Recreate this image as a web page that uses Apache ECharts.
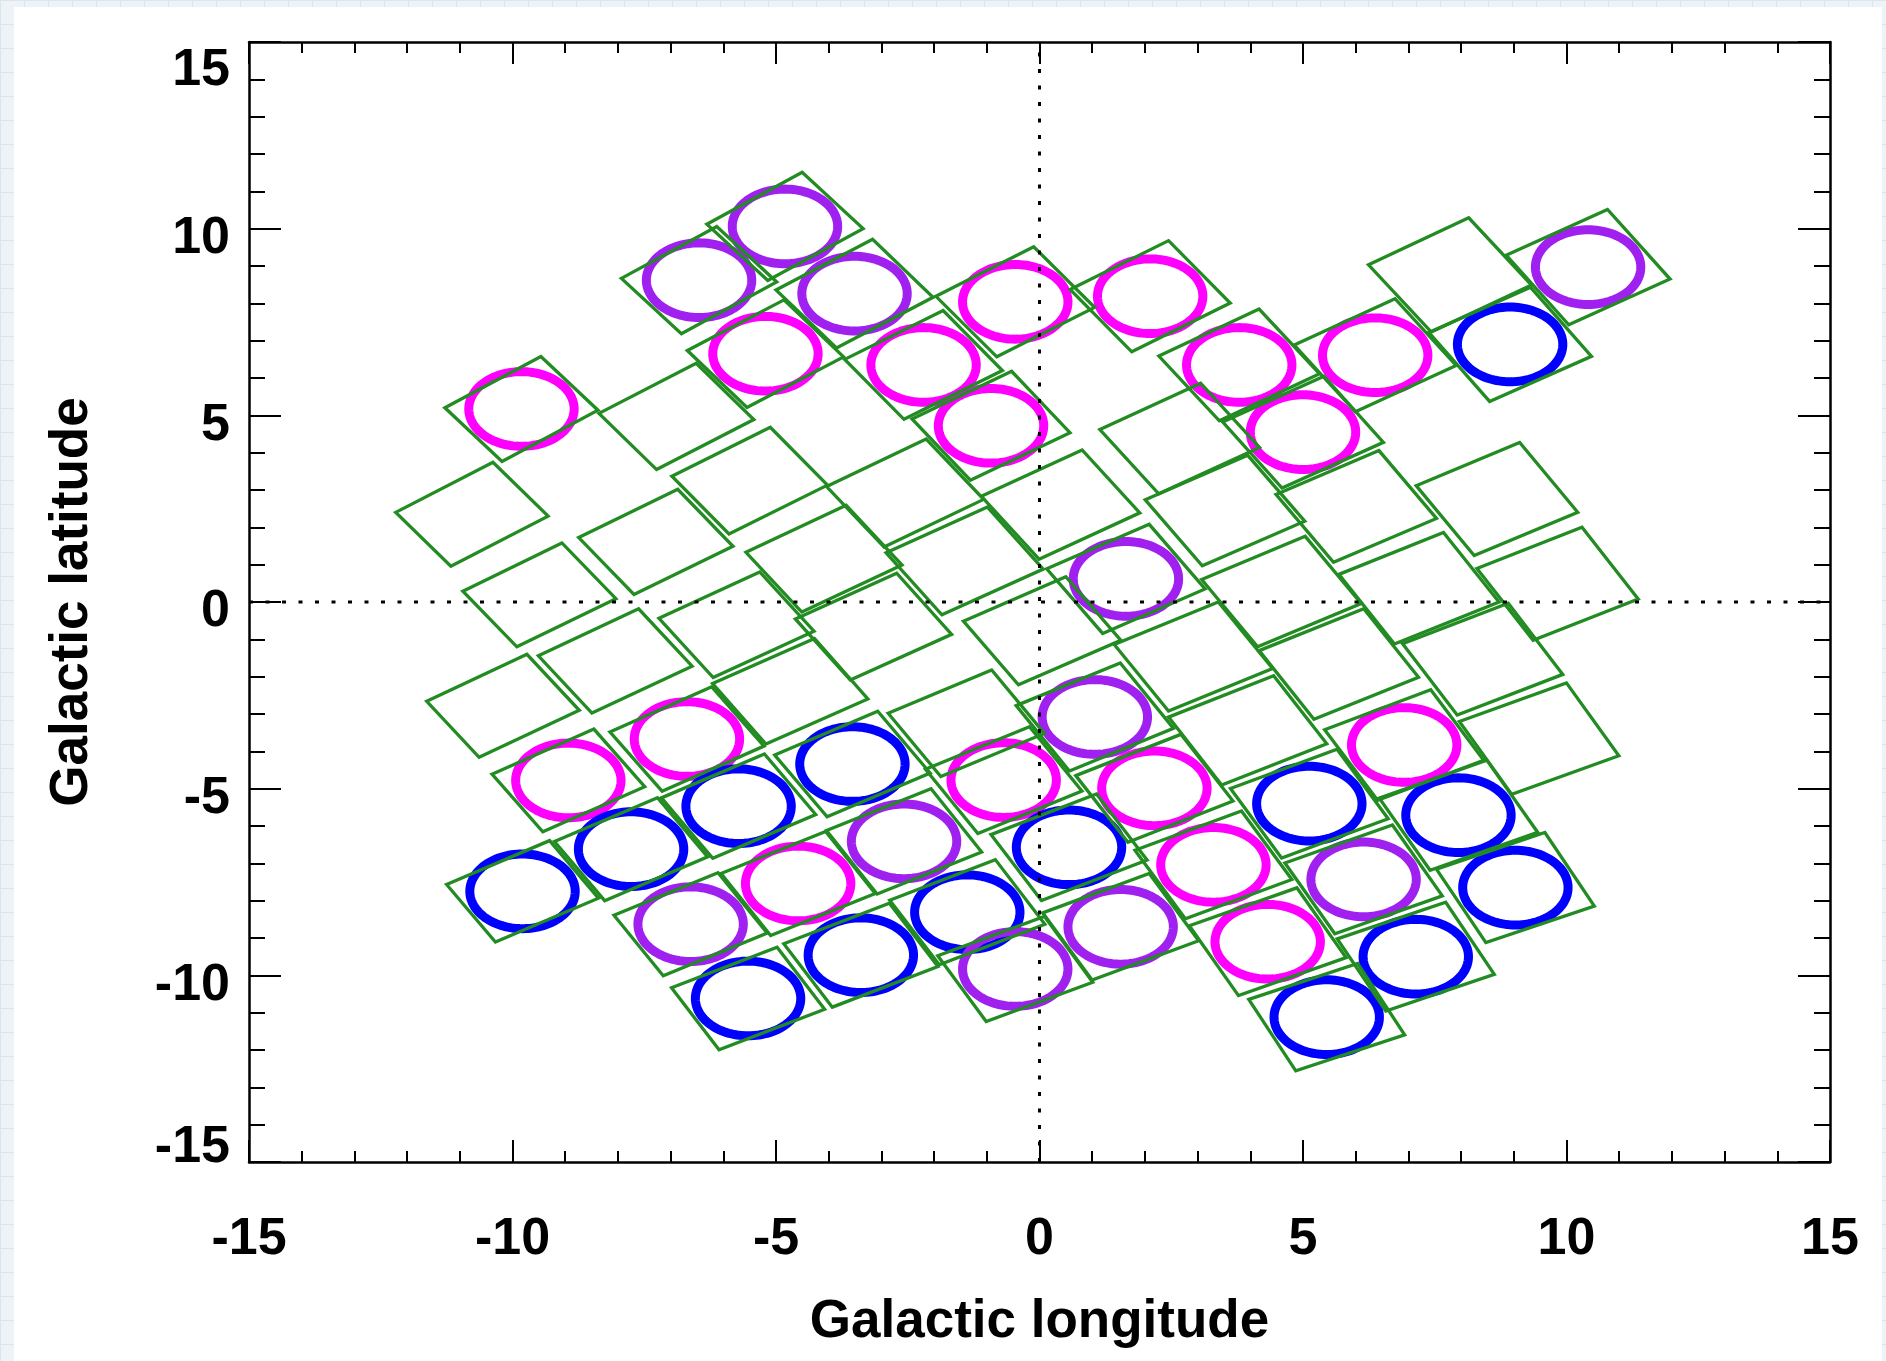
<!DOCTYPE html>
<html><head><meta charset="utf-8">
<script src="https://cdn.jsdelivr.net/npm/echarts@6/dist/echarts.min.js"></script>
<style>
html,body{margin:0;padding:0;width:1886px;height:1361px;overflow:hidden;}
body{background-color:#eef3f7;background-image:linear-gradient(#dbe5ee 1px,transparent 1px),linear-gradient(90deg,#dbe5ee 1px,transparent 1px);background-size:24px 24px;}
#card{position:absolute;left:14px;top:7px;width:1868px;height:1354px;background:#fff;}
#chart{position:absolute;left:0;top:0;width:1886px;height:1361px;}
</style></head><body><div id="card"></div><div id="chart"></div>
<script>
// ---- ring (circle) fields: galactic l, b and colour class ----
const ringL = [-4.83,-6.46,-3.51,-0.46,2.10,10.41,-5.20,-2.20,3.79,6.37,8.93,-9.83,-0.92,5.00,1.64,1.05,-6.69,6.92,-8.94,-3.55,-0.68,2.18,-5.71,5.12,7.95,-7.75,-2.57,0.56,3.30,6.15,-9.81,-4.58,9.03,-6.62,-1.37,1.54,4.33,-3.39,-0.46,7.14,-5.53,5.45];
const ringB = [10.06,8.62,8.26,8.04,8.19,8.97,6.65,6.35,6.35,6.61,6.90,5.17,4.72,4.55,0.62,-3.08,-3.67,-3.83,-4.78,-4.34,-4.77,-4.99,-5.47,-5.40,-5.71,-6.62,-6.41,-6.57,-7.04,-7.43,-7.75,-7.54,-7.65,-8.63,-8.31,-8.70,-9.10,-9.46,-9.83,-9.50,-10.62,-11.12];
const ringKind = ['P','P','P','M','M','P','M','M','M','M','B','M','M','M','P','P','M','M','M','B','M','M','B','B','B','B','P','B','M','P','B','M','B','P','B','P','M','B','P','B','B','B'];

// ---- square fields without a ring ----
const openL = [7.79,-10.77,-6.89,-5.50,-7.28,-9.49,-8.05,-10.18,-5.75,-4.09,-2.55,-3.15,-4.73,-1.42,0.40,0.05,-1.39,2.66,3.52,6.01,8.68,9.83,7.20,4.59,2.92,3.95,5.68,8.41,9.48];
const openB = [8.76,2.35,4.97,3.25,1.61,0.19,-1.58,-2.78,-0.61,1.16,2.92,-0.66,-2.39,1.10,2.61,-0.77,-3.25,4.38,2.45,2.56,2.76,0.49,0.37,0.28,-1.46,-3.44,-1.66,-1.53,-3.66];

// ---- field orientation (deg) and short side (deg): ring fields then open fields ----
const ringFieldAngle = [37.5,37.5,36.5,35.5,35,32.5,36.5,35,33.5,33,32,37,34,32.5,31.5,30,32,28,32,31,30,29,31,27.5,26.5,31,29.5,28.5,27.5,26.5,31,29.5,25.5,30,28.5,27.5,26.5,28.5,27.5,25.5,28.5,25];
const openFieldAngle = [33.5,36,36,35,34.5,34.5,33.5,33.5,33,33.5,34,32.5,32,32.5,33,31.5,30.5,33,31.5,31,30.5,29,29.5,30.5,30,29,29.5,28.5,27];
const ringFieldShort = [1.90,1.87,1.93,1.99,2.04,2.21,1.90,1.96,2.08,2.13,2.18,1.80,1.98,2.10,2.03,2.02,1.87,2.14,1.82,1.93,1.99,2.04,1.89,2.10,2.16,1.85,1.95,2.01,2.07,2.12,1.80,1.91,2.18,1.87,1.97,2.03,2.09,1.93,1.99,2.14,1.89,2.11];
const openFieldShort = [2.16,1.78,1.86,1.89,1.85,1.81,1.84,1.80,1.89,1.92,1.95,1.94,1.91,1.97,2.01,2.00,1.97,2.05,2.07,2.12,2.17,2.20,2.14,2.09,2.06,2.08,2.11,2.17,2.19];
const FIELD_LONG = 2.28;   // long side of a field, deg
const RING_R = 1.0;        // ring radius, deg

// ---- axes ----
const axisMin = -15, axisMax = 15, axisStep = 5;
const zeroLineH = [[-15,0],[15,0]];
const zeroLineV = [[0,-15],[0,15]];

const fieldL = ringL.concat(openL);
const fieldB = ringB.concat(openB);
const fieldAngle = ringFieldAngle.concat(openFieldAngle);
const fieldShort = ringFieldShort.concat(openFieldShort);

const RING_COLOR = {P:'#A020F0', M:'#FF00FF', B:'#0000FF'};
const GREEN = '#228B22';
const FONT = '"Liberation Sans", Arial, Helvetica, sans-serif';
const lab = {fontSize:52, fontWeight:'bold', color:'#000', fontFamily:FONT};

function tickAxis(pos, major, minor, showLabel, extra) {
  return Object.assign({
    type:'value', position:pos, min:axisMin, max:axisMax, interval:axisStep,
    axisLine:{show:true, onZero:false, lineStyle:{color:'#000', width:2.5}},
    axisTick:{show:true, inside:true, length:major, lineStyle:{color:'#000', width:2}},
    minorTick:{show:true, splitNumber:5, length:minor, lineStyle:{color:'#000', width:2}},
    splitLine:{show:false}, minorSplitLine:{show:false},
    axisLabel:{show:showLabel},
    nameMoveOverlap:false
  }, extra || {});
}

const chart = echarts.init(document.getElementById('chart'), null, {renderer:'canvas', width:1886, height:1361});

const option = {
  animation:false,
  backgroundColor:'transparent',
  grid:{left:249, top:42, width:1581, height:1120, containLabel:false, outerBoundsMode:'none'},
  xAxis:[
    tickAxis('bottom', 22, 11, true, {
      axisLabel:Object.assign({show:true, margin:52}, lab),
      name:'Galactic longitude', nameLocation:'middle', nameGap:134,
      nameTextStyle:{fontSize:53, fontWeight:'bold', color:'#000', fontFamily:FONT}
    }),
    tickAxis('top', 22, 11, false)
  ],
  yAxis:[
    tickAxis('left', 32, 16, true, {
      axisLabel:Object.assign({show:true, margin:19,
        formatter:function(v){ return v === axisMax ? '{top|'+v+'}' : (v === axisMin ? '{bot|'+v+'}' : '{mid|'+v+'}'); },
        rich:{
          top:Object.assign({padding:[58,0,0,0]}, lab),
          bot:Object.assign({padding:[0,0,28,0]}, lab),
          mid:Object.assign({padding:[20,0,0,0]}, lab)
        }
      }, lab),
      name:'Galactic latitude', nameLocation:'middle', nameGap:150, nameRotate:90,
      nameTextStyle:{fontSize:53, fontWeight:'bold', color:'#000', fontFamily:FONT}
    }),
    tickAxis('right', 32, 16, false)
  ],
  series:[
    {type:'line', xAxisIndex:0, yAxisIndex:0, data:zeroLineH, symbol:'none', silent:true,
     lineStyle:{color:'#000', width:3, type:[4,12.5]}},
    {type:'line', xAxisIndex:0, yAxisIndex:0, data:zeroLineV, symbol:'none', silent:true,
     lineStyle:{color:'#000', width:3, type:[4,12.5]}},
    {type:'custom', xAxisIndex:0, yAxisIndex:0, silent:true,
     data:ringL.map(function(l,i){ return [l, ringB[i]]; }),
     encode:{x:0, y:1},
     renderItem:function(params, api){
       const l = api.value(0), b = api.value(1);
       const pts = [];
       for (let k = 0; k < 120; k++) {
         const t = 2*Math.PI*k/120;
         pts.push(api.coord([l + RING_R*Math.cos(t), b + RING_R*Math.sin(t)]));
       }
       return {type:'polygon', shape:{points:pts},
               style:{fill:'none', stroke:RING_COLOR[ringKind[params.dataIndex]], lineWidth:9}};
     }},
    {type:'custom', xAxisIndex:0, yAxisIndex:0, silent:true,
     data:fieldL.map(function(l,i){ return [l, fieldB[i], fieldAngle[i], fieldShort[i]]; }),
     encode:{x:0, y:1},
     renderItem:function(params, api){
       const l = api.value(0), b = api.value(1);
       const a = api.value(2)*Math.PI/180, hs = api.value(3)/2, hl = FIELD_LONG/2;
       const ux = Math.cos(a), uy = Math.sin(a), vx = -uy, vy = ux;
       const pts = [[-hl, hs],[hl, hs],[hl,-hs],[-hl,-hs]].map(function(p){
         return api.coord([l + p[0]*ux + p[1]*vx, b + p[0]*uy + p[1]*vy]);
       });
       return {type:'polygon', shape:{points:pts},
               style:{fill:'none', stroke:GREEN, lineWidth:3.3}};
     }}
  ]
};
chart.setOption(option);
</script></body></html>
